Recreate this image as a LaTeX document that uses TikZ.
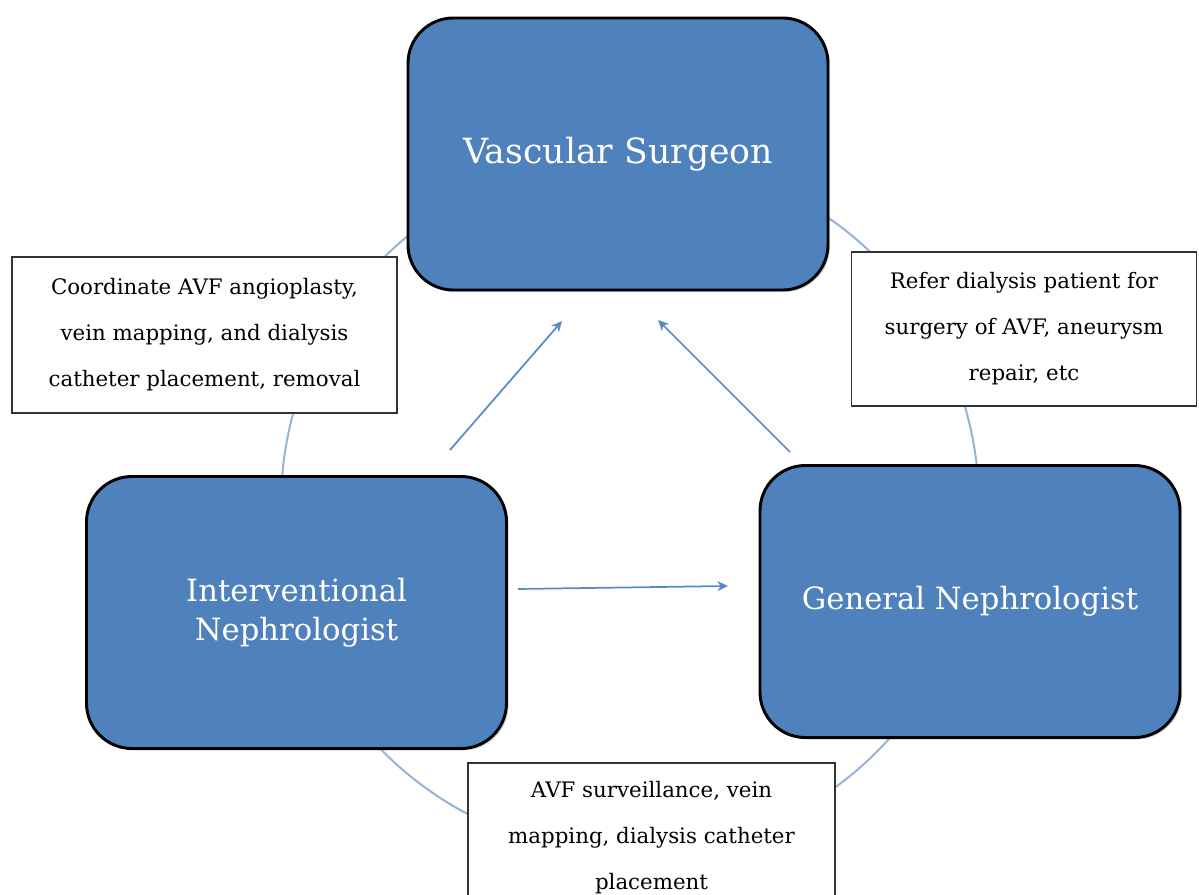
\documentclass[tikz,border=0pt]{standalone}
\usepackage{fontspec}
\setmainfont{DejaVu Serif}
\usepackage{xcolor}
\usepackage{tikz}
\usetikzlibrary{arrows.meta, positioning, shadows}

\definecolor{roleblue}{HTML}{4F81BD}
\definecolor{ringblue}{HTML}{95B3D7}
\definecolor{linkblue}{HTML}{5A8AC6}

\begin{document}
\begin{tikzpicture}[
  x=0.75pt, y=-0.75pt,
  role/.style={rectangle, rounded corners=34pt, draw=black, line width=2.2pt, fill=roleblue,
               minimum width=315pt, minimum height=204pt, align=center, text=white,
               font=\fontsize{23}{29}\selectfont,
               drop shadow={shadow xshift=1.5pt, shadow yshift=-1.5pt, opacity=0.35}},
  note/.style={rectangle, draw=black!80, line width=1.2pt, fill=white, align=center,
               font=\fontsize{16}{34.5}\selectfont},
  ring/.style={circle, draw=ringblue, line width=1.5pt, minimum size=523.5pt, inner sep=0pt},
  arrow/.style={-{Stealth[length=8pt, width=7.5pt, inset=2.5pt]}, draw=linkblue, line width=1.3pt}
]
\clip (0,0) rectangle (1199,895);

% cycle in the background
\node[ring] (cycle) at (630,505) {};

% free ends of the arrows
\coordinate (ivS) at (450,450);
\coordinate (ivE) at (562,321);
\coordinate (gnS) at (790,452);
\coordinate (gnE) at (658,320);
\coordinate (inS) at (518,589);
\coordinate (inE) at (728,586);

\draw[arrow] (ivS) -- (ivE);
\draw[arrow] (gnS) -- (gnE);
\draw[arrow] (inS) -- (inE);

% notes
\node[note, minimum width=288.75pt, minimum height=117pt] (coord) at (204.5,335)
  {Coordinate AVF angioplasty,\\vein mapping, and dialysis\\catheter placement, removal};
\node[note, minimum width=259pt, minimum height=115.5pt] (refer) at (1024,329)
  {Refer dialysis patient for\\surgery of AVF, aneurysm\\repair, etc};
\node[note, minimum width=275pt, minimum height=112.5pt] (surv) at (651.5,838)
  {AVF surveillance, vein\\mapping, dialysis catheter\\placement};

% roles
\node[role, font=\fontsize{26}{32}\selectfont] (vasc) at (618,154) {Vascular Surgeon};
\node[role] (inter) at (296.5,612.5) {Interventional\\Nephrologist};
\node[role] (gen) at (970,601.5) {General Nephrologist};

\end{tikzpicture}
\end{document}
